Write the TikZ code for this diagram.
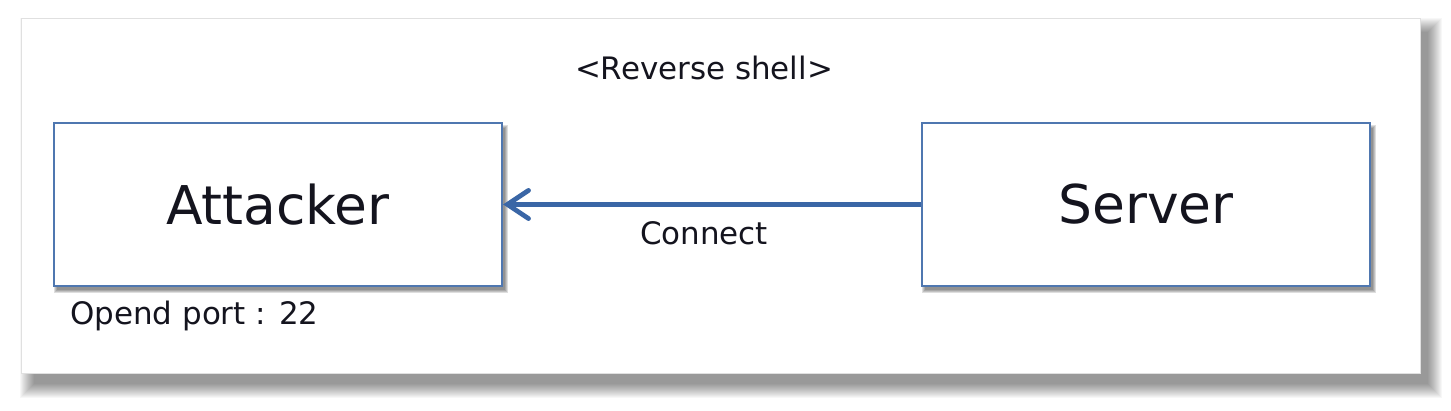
\documentclass[tikz,border=0pt]{standalone}
\usepackage{fontspec}
\setmainfont{DejaVu Sans}
\usetikzlibrary{arrows.meta}
\definecolor{boxblue}{RGB}{79,119,176}
\definecolor{arrowblue}{RGB}{58,102,166}
\definecolor{txt}{RGB}{20,20,30}
\tikzset{
  px/.style={x=0.025cm,y=-0.025cm},
  hostbox/.style={draw=boxblue,line width=1.5pt,fill=white,minimum width=11.2cm,minimum height=4.075cm,inner sep=0pt,font=\fontsize{38}{44}\selectfont,text=txt},
  lbl/.style={inner sep=0pt,font=\fontsize{22}{26}\selectfont,text=txt},
  conn/.style={draw=arrowblue,line width=3.4pt,-{Straight Barb[length=15pt,width=20pt,line cap=round]}}
}
\begin{document}
\begin{tikzpicture}[px]
\useasboundingbox (0,0) rectangle (1451,411);
\fill[white] (0,0) rectangle (1451,411);
% panel shadow
\foreach \k in {0,...,14}{
  \fill[black,opacity=0.032] (34-\k,32-\k) rectangle (1428+\k,384+\k);
}
\fill[white] (21,18) rectangle (1420,373);
\draw[black!12,line width=0.4pt] (21,18) rectangle (1420,373);
% box shadows
\foreach \k in {0,1,2,3}{
  \fill[black,opacity=0.13] (57-\k,128-\k) rectangle (505+\k,290+\k);
  \fill[black,opacity=0.13] (925-\k,128-\k) rectangle (1373+\k,290+\k);
}
\node[hostbox] (attacker) at (278,204.5) {Attacker};
\node[hostbox] (server) at (1146,204.5) {Server};
\draw[conn] (server.west) -- (attacker.east);
\node[lbl] (title) at (704,68) {<Reverse shell>};
\node[lbl] (connect) at (704,233) {Connect};
\node[lbl,anchor=west] (port) at (70,316) {Opend port : 22};
\end{tikzpicture}
\end{document}
